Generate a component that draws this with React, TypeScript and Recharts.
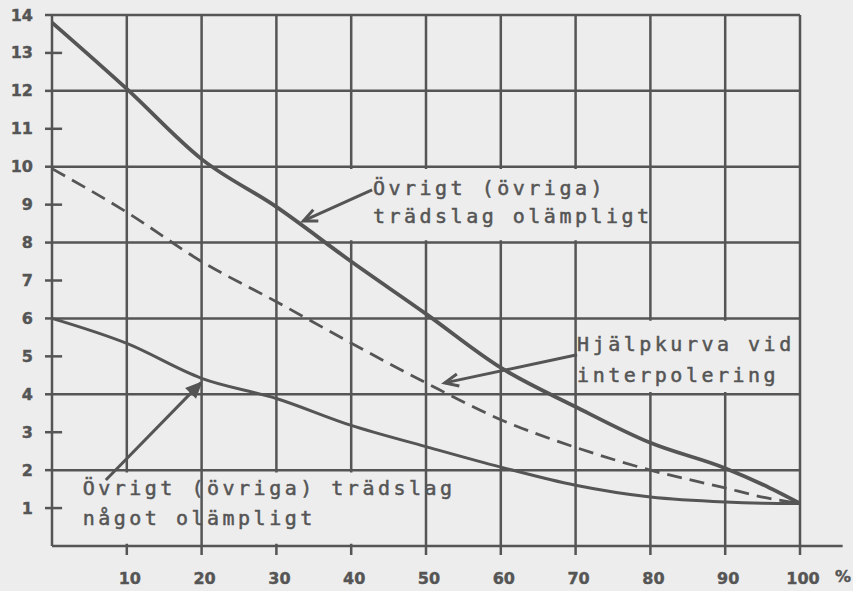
import { LineChart, Line, XAxis, YAxis, CartesianGrid, ReferenceArea, ReferenceLine, ReferenceDot } from 'recharts';

const BG = '#ededed';
const INK = '#555555';
const TXT = '#555555';

const shares = [0, 10, 20, 30, 40, 50, 60, 70, 80, 90, 95, 100];
const olampligt = [13.8, 12.05, 10.2, 8.94, 7.5, 6.12, 4.7, 3.67, 2.72, 2.05, 1.62, 1.12];
const hjalpkurva = [9.95, 8.8, 7.5, 6.44, 5.35, 4.3, 3.33, 2.6, 2.0, 1.53, 1.29, 1.12];
const nagotOlampligt = [6.0, 5.34, 4.42, 3.89, 3.18, 2.62, 2.08, 1.6, 1.29, 1.16, 1.13, 1.12];

const xTicks = [10, 20, 30, 40, 50, 60, 70, 80, 90, 100];
const yTicks = [1, 2, 3, 4, 5, 6, 7, 8, 9, 10, 11, 12, 13, 14];
const gridY = [2, 4, 6, 8, 10, 12, 14];

const labelTop = ['Övrigt (övriga)', 'trädslag olämpligt'];
const labelMid = ['Hjälpkurva vid', 'interpolering'];
const labelLow = ['Övrigt (övriga) trädslag', 'något olämpligt'];

const data = shares.map((x, i) => ({
  x,
  olampligt: olampligt[i],
  hjalp: hjalpkurva[i],
  nagot: nagotOlampligt[i],
}));

const oddTicks = yTicks.filter((v) => v % 2 === 1);

const tickFont = {
  fontFamily: 'DejaVu Sans',
  fontWeight: 700,
  fontSize: 16,
  fill: TXT,
  stroke: TXT,
  strokeWidth: 0.4,
};
const monoFont = {
  fontFamily: 'DejaVu Sans Mono',
  fontSize: 20,
  letterSpacing: 3.5,
  fill: TXT,
  stroke: TXT,
  strokeWidth: 0.5,
};

function YTick(p: any) {
  const v = p.payload.value;
  const x = Number(p.x);
  const y = Number(p.y);
  return (
    <g>
      <rect x={x - 7} y={y - 1.25} width={7} height={2.5} fill={INK} />
      <text x={x - 19} y={y} textAnchor="end" dominantBaseline="central" {...tickFont}>{v}</text>
    </g>
  );
}

function XTick(p: any) {
  const v = p.payload.value;
  const x = Number(p.x);
  const y = Number(p.y);
  return (
    <g>
      <rect x={x - 1.25} y={y} width={2.5} height={9} fill={INK} />
      <text x={x + 3} y={y + 32} textAnchor="middle" dominantBaseline="central" {...tickFont}>{v}</text>
      {v === 100 && (
        <text x={x + 43} y={y + 30} textAnchor="middle" dominantBaseline="central" {...tickFont}>%</text>
      )}
    </g>
  );
}

function textShape(lines: string[], gap: number) {
  return (p: any) => (
    <text x={p.cx} y={p.cy} {...monoFont}>
      {lines.map((l, i) => (
        <tspan key={i} x={p.cx} dy={i === 0 ? 0 : gap}>{l}</tspan>
      ))}
    </text>
  );
}

function arrowShape(filled: boolean) {
  return (p: any) => {
    const { x1, y1, x2, y2 } = p;
    const a = Math.atan2(y2 - y1, x2 - x1);
    const L = 15;
    const w = 0.42;
    const ax = x2 - L * Math.cos(a - w);
    const ay = y2 - L * Math.sin(a - w);
    const bx = x2 - L * Math.cos(a + w);
    const by = y2 - L * Math.sin(a + w);
    return (
      <g>
        <line x1={x1} y1={y1} x2={x2} y2={y2} stroke={INK} strokeWidth={3} />
        {filled ? (
          <polygon points={`${ax},${ay} ${x2},${y2} ${bx},${by}`} fill={INK} stroke={INK} strokeWidth={2} />
        ) : (
          <polyline points={`${ax},${ay} ${x2},${y2} ${bx},${by}`} fill="none" stroke={INK} strokeWidth={3} />
        )}
      </g>
    );
  };
}

export default function App() {
  return (
    <div style={{ position: 'absolute', left: 0, top: 0, width: 853, height: 591, background: BG }}>
      <LineChart width={853} height={591} data={data} margin={{ top: 15, right: 53, left: 0, bottom: 0 }}>
        <CartesianGrid stroke={INK} strokeWidth={2.5} horizontalValues={gridY} verticalValues={xTicks} />
        <XAxis
          dataKey="x"
          type="number"
          domain={[0, 100]}
          ticks={xTicks}
          height={45}
          tickSize={0}
          tickMargin={0}
          tickLine={false}
          axisLine={{ stroke: INK, strokeWidth: 2.5 }}
          tick={(p: any) => <XTick {...p} />}
          interval={0}
        />
        <YAxis
          type="number"
          domain={[0, 14]}
          ticks={yTicks}
          width={52}
          tickSize={0}
          tickMargin={0}
          tickLine={false}
          axisLine={{ stroke: INK, strokeWidth: 2.5 }}
          tick={(p: any) => <YTick {...p} />}
          interval={0}
        />

        {/* blank patches behind the annotation texts, as in the original drawing */}
        <ReferenceArea x1={31} x2={79.7} y1={8.06} y2={9.94} fill={BG} fillOpacity={1} stroke="none" />
        <ReferenceArea x1={70.3} x2={99.7} y1={4.06} y2={5.94} fill={BG} fillOpacity={1} stroke="none" />
        <ReferenceArea x1={0.4} x2={19.7} y1={0.06} y2={1.94} fill={BG} fillOpacity={1} stroke="none" />
        <ReferenceArea x1={20.3} x2={45} y1={0.06} y2={1.94} fill={BG} fillOpacity={1} stroke="none" />

        {/* short inner marks at the odd y values */}
        {oddTicks.map((v) => (
          <ReferenceLine key={v} segment={[{ x: 0, y: v }, { x: 1.35, y: v }]} ifOverflow="visible" stroke={INK} strokeWidth={2.5} />
        ))}

        <ReferenceLine segment={[{ x: 100, y: 0 }, { x: 105.7, y: 0 }]} ifOverflow="visible" stroke={INK} strokeWidth={2.5} />

        <Line dataKey="olampligt" type="monotone" stroke={INK} strokeWidth={3.8} dot={false} isAnimationActive={false} />
        <Line dataKey="hjalp" type="monotone" stroke={INK} strokeWidth={2.8} strokeDasharray="15 8" dot={false} isAnimationActive={false} />
        <Line dataKey="nagot" type="monotone" stroke={INK} strokeWidth={3} dot={false} isAnimationActive={false} />

        <ReferenceLine segment={[{ x: 42.8, y: 9.39 }, { x: 33.6, y: 8.57 }]} ifOverflow="visible" shape={arrowShape(false)} />
        <ReferenceLine segment={[{ x: 70.2, y: 5.04 }, { x: 52.5, y: 4.3 }]} ifOverflow="visible" shape={arrowShape(false)} />
        <ReferenceLine segment={[{ x: 7.2, y: 1.74 }, { x: 19.9, y: 4.3 }]} ifOverflow="visible" shape={arrowShape(true)} />

        <ReferenceDot x={42.9} y={9.25} r={0} ifOverflow="visible" shape={textShape(labelTop, 28)} />
        <ReferenceDot x={70.2} y={5.14} r={0} ifOverflow="visible" shape={textShape(labelMid, 31)} />
        <ReferenceDot x={4.1} y={1.34} r={0} ifOverflow="visible" shape={textShape(labelLow, 30)} />
      </LineChart>
    </div>
  );
}
